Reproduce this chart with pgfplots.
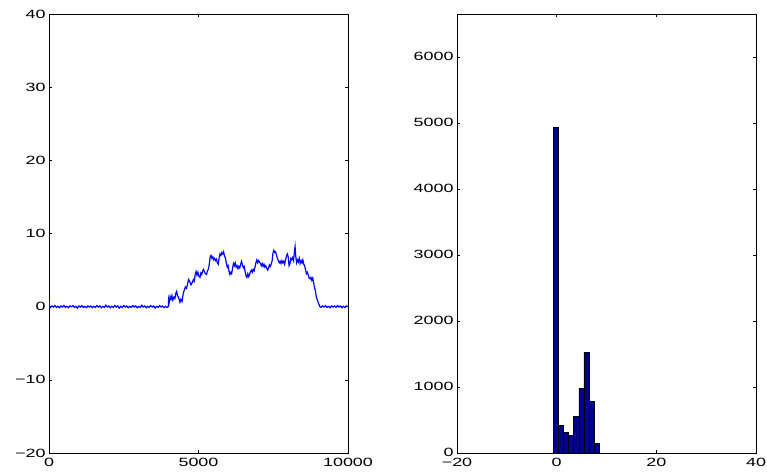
\documentclass[border=0pt]{standalone}
\usepackage{pgfplots}
\pgfplotsset{compat=1.18}
\usepackage{fontspec}
\setmainfont{Liberation Sans}[FakeStretch=1.5]
\definecolor{mblue}{rgb}{0,0,1}
\definecolor{mbar}{rgb}{0,0,0.56}
\begin{document}
\begin{tikzpicture}
\path[use as bounding box] (0bp,0bp) rectangle (767bp,476bp);
\pgfplotsset{every axis/.append style={
  scale only axis, width=299bp, height=439bp,
  axis line style={black, line width=0.7pt},
  tick style={black, line width=0.5pt},
  major tick length=3bp,
  tick align=inside,
  ticklabel style={font=\fontsize{12}{14}\selectfont},
  /pgf/number format/assume math mode=true,
  /pgf/number format/1000 sep={},
  xtick pos=both, ytick pos=both,
  xticklabel style={yshift=-2bp},
}}
\begin{axis}[at={(49bp,23bp)}, anchor=south west,
  xmin=0, xmax=10000, ymin=-20, ymax=40,
  xtick={0,5000,10000}, xticklabels={0,5000,10000},
  ytick={-20,-10,0,10,20,30,40},
  yticklabels={−20,−10,0,10,20,30,40},
  scaled x ticks=false]
\addplot[mblue, line width=1.2pt] coordinates {
(0,0.8)(15,0.1)(50,-0.1)(100,0.1)(150,-0.05)(200,0.15)(250,-0.1)(300,0.05)(350,-0.15)(400,0.1)
(450,-0.05)(500,0.15)(550,-0.1)(600,0.05)(650,-0.15)(700,0.1)(750,0.0)(800,0.15)(850,-0.1)(900,0.05)
(950,-0.2)(1000,0.1)(1050,-0.05)(1100,0.15)(1150,-0.1)(1200,0.05)(1250,-0.15)(1300,0.1)(1350,-0.05)(1400,0.1)
(1450,-0.15)(1500,0.05)(1550,-0.1)(1600,0.15)(1650,-0.05)(1700,0.1)(1750,-0.15)(1800,0.05)(1850,-0.1)(1900,0.2)
(1950,-0.05)(2000,0.1)(2050,-0.15)(2100,0.05)(2150,-0.1)(2200,0.15)(2250,-0.05)(2300,0.1)(2350,-0.2)(2400,0.05)
(2450,-0.1)(2500,0.15)(2550,-0.05)(2600,0.1)(2650,-0.15)(2700,0.05)(2750,-0.1)(2800,0.15)(2850,-0.05)(2900,0.1)
(2950,-0.15)(3000,0.05)(3050,-0.1)(3100,0.2)(3150,-0.05)(3200,0.1)(3250,-0.15)(3300,0.05)(3350,-0.1)(3400,0.15)
(3450,-0.05)(3500,0.1)(3550,-0.2)(3600,0.05)(3650,-0.1)(3700,0.15)(3750,-0.05)(3800,0.1)(3850,-0.15)(3900,0.05)
(3950,-0.1)(3990,0.0)
(4000,1.0)(4020,0.6)(4050,1.4)(4080,1.0)(4110,1.5)(4140,0.9)(4180,1.3)(4210,1.1)(4240,1.8)(4270,2.1)
(4300,1.5)(4340,1.2)(4380,0.6)(4410,1.0)(4450,0.7)(4490,1.8)(4520,2.2)(4560,2.7)(4600,2.5)(4640,3.2)
(4670,3.7)(4710,3.4)(4750,3.0)(4790,3.3)(4830,3.7)(4860,3.5)(4890,4.4)(4920,4.8)(4950,4.3)(4980,4.7)
(5010,4.2)(5050,4.0)(5080,4.6)(5110,4.4)(5140,4.9)(5170,5.1)(5200,4.7)(5240,4.5)(5270,4.4)(5300,4.9)
(5330,5.1)(5360,5.8)(5390,6.8)(5420,7.0)(5450,6.6)(5480,6.8)(5510,6.4)(5540,6.6)(5570,6.3)(5600,6.5)
(5630,6.0)(5660,5.8)(5690,6.7)(5720,7.2)(5750,7.0)(5780,7.4)(5810,7.2)(5840,7.5)(5870,6.9)(5900,6.7)
(5930,6.0)(5960,5.4)(5990,5.6)(6020,4.9)(6050,4.4)(6080,4.7)(6110,4.5)(6140,5.3)(6170,5.9)(6200,5.6)
(6230,6.0)(6260,5.4)(6290,5.6)(6320,5.2)(6350,5.5)(6380,5.3)(6410,5.8)(6440,6.2)(6470,5.7)(6500,5.3)
(6530,5.5)(6560,4.8)(6590,4.2)(6620,4.0)(6650,4.5)(6680,4.1)(6710,4.4)(6740,4.8)(6770,5.0)(6800,4.7)
(6830,5.1)(6860,4.9)(6890,5.4)(6920,6.0)(6950,6.4)(6980,6.0)(7010,6.3)(7040,6.1)(7070,5.9)(7100,5.6)
(7130,5.9)(7160,5.5)(7190,5.8)(7220,5.4)(7250,5.6)(7280,5.3)(7310,5.0)(7340,5.2)(7370,5.7)(7400,5.5)
(7430,5.8)(7460,6.2)(7490,7.3)(7520,7.7)(7550,7.4)(7580,7.5)(7610,7.0)(7640,6.6)(7670,6.3)(7700,6.0)
(7730,6.2)(7760,5.9)(7790,6.3)(7820,6.0)(7850,6.2)(7880,5.8)(7910,6.4)(7940,6.9)(7970,7.2)(8000,6.8)
(8030,5.6)(8060,5.9)(8090,6.6)(8120,6.4)(8150,6.7)(8180,6.3)(8210,7.6)(8230,8.2)(8250,7.0)(8280,6.0)
(8310,6.4)(8340,6.1)(8370,6.6)(8400,5.9)(8430,6.3)(8460,6.0)(8490,6.4)(8520,5.8)(8550,5.6)(8580,5.0)
(8610,4.5)(8640,4.7)(8670,4.4)(8700,3.9)(8730,3.8)(8760,4.0)(8790,3.6)(8820,3.9)(8850,3.3)(8880,2.6)
(8910,2.2)(8940,1.3)(8970,1.0)(9000,0.6)(9030,0.3)(9060,0.0)
(9100,-0.1)(9150,0.1)(9200,-0.05)(9250,0.15)(9300,-0.1)(9350,0.05)(9400,-0.15)(9450,0.1)(9500,-0.05)
(9550,0.1)(9600,-0.1)(9650,0.15)(9700,-0.05)(9750,0.1)(9800,-0.15)(9850,0.05)(9900,-0.1)(9950,0.1)(10000,0.0)
};
\end{axis}
\begin{axis}[at={(457bp,23bp)}, anchor=south west,
  xmin=-20, xmax=40, ymin=0, ymax=6660,
  xtick={-20,0,20,40}, xticklabels={−20,0,20,40},
  ytick={0,1000,2000,3000,4000,5000,6000},
  yticklabel style={yshift=1bp},
  scaled y ticks=false]
\addplot[ybar, bar width=1.025, fill=mbar, draw=black, line width=0.5pt] coordinates {
(-0.1675,4943)(0.8575,414)(1.8825,318)(2.9075,263)(3.9325,556)(4.9575,975)(5.9825,1527)(7.0075,783)(8.0325,141)
};
\end{axis}
\end{tikzpicture}
\end{document}
